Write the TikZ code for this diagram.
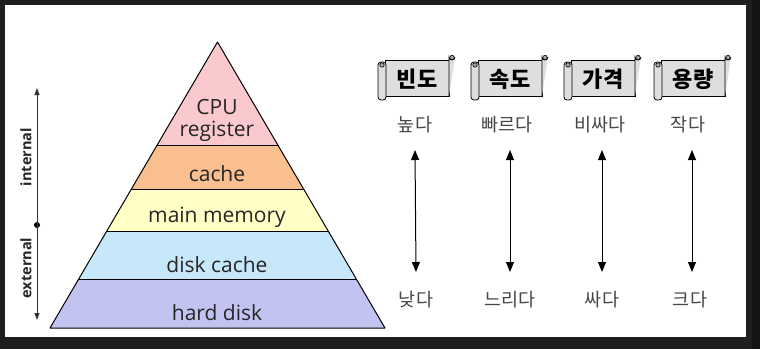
\documentclass[tikz,border=0pt]{standalone}
\usepackage{fontspec}
\setmainfont{Open Sans}
\newfontfamily\kofont{Noto Sans CJK KR}
\usetikzlibrary{arrows.meta}
\definecolor{regPink}{HTML}{F9C9CD}
\definecolor{cachePeach}{HTML}{F9BF8F}
\definecolor{memYellow}{HTML}{FFFFC6}
\definecolor{dcacheBlue}{HTML}{C7E7FA}
\definecolor{diskLilac}{HTML}{C3C3F2}
\definecolor{scrollGray}{HTML}{DEDEDE}
\definecolor{frameDark}{HTML}{1E1E1E}

% scroll banner: name, x centre, title
\newcommand{\scrollTitle}[3]{%
  \draw[fill=scrollGray, line width=0.8pt] (#2-30,60) rectangle (#2+34,96);
  \draw[fill=scrollGray, line width=0.8pt] (#2+34,96) -- (#2+34,57) arc[start angle=180, end angle=0, radius=3] -- (#2+40,57);
  \draw[fill=gray!70, line width=0.6pt] (#2+37,57.5) circle (2.2);
  \draw[fill=scrollGray, line width=0.8pt, rounded corners=3pt] (#2-37,62) rectangle (#2-29,100);
  \draw[fill=gray!70, line width=0.6pt] (#2-33,65) circle (2.2);
  \node[font=\kofont\bfseries\fontsize{22}{26}\selectfont] (#1) at (#2+2,79) {#3};
}

\begin{document}
\begin{tikzpicture}[x=1pt,y=-1pt,
  layer/.style={font=\fontsize{21}{25}\selectfont, text=black!85},
  kor/.style={font=\kofont\fontsize{18.5}{22}\selectfont, text=black!72},
  side/.style={font=\bfseries\fontsize{14.5}{17}\selectfont, rotate=90, text=black!85},
  dblarrow/.style={{Triangle[width=8pt,length=10pt]}-{Triangle[width=8pt,length=10pt]}, line width=1pt},
  thinarrow/.style={{Triangle[width=5pt,length=7pt]}-{Triangle[width=5pt,length=7pt]}, line width=0.9pt, black!80}]
\useasboundingbox (0,0) rectangle (760,349);
\fill[frameDark] (0,0) rectangle (760,349);
\fill[black!92] (752,0) rectangle (760,349);
\fill[white] (5,5) rectangle (746,337);

% pyramid
\begin{scope}
\clip (217.5,42) -- (50,328) -- (385,328) -- cycle;
\fill[regPink] (40,40) rectangle (400,145);
\fill[cachePeach] (40,145) rectangle (400,189);
\fill[memYellow] (40,189) rectangle (400,231);
\fill[dcacheBlue] (40,231) rectangle (400,279);
\fill[diskLilac] (40,279) rectangle (400,330);
\draw[line width=1pt] (40,145) -- (400,145);
\draw[line width=1pt] (40,189) -- (400,189);
\draw[line width=1pt] (40,231) -- (400,231);
\draw[line width=1pt] (40,279) -- (400,279);
\end{scope}
\draw[line width=1pt, line join=round] (217.5,42) -- (50,328) -- (385,328) -- cycle;

\node[layer, align=center] (cpu) at (217,120) {CPU\\[-3pt]register};
\node[layer] (cache) at (217,174) {cache};
\node[layer] (mainmem) at (217,217) {main memory};
\node[layer] (dcache) at (217,265) {disk cache};
\node[layer] (hdisk) at (217,313) {hard disk};

% internal / external
\coordinate (memTop) at (37,88);
\coordinate (memBot) at (37,320);
\node[circle, fill=black, inner sep=0pt, minimum size=6pt] (split) at (37,225) {};
\draw[thinarrow] (memTop) -- (memBot);
\node[side] (internal) at (26,157) {internal};
\node[side] (external) at (26,268) {external};

% scrolls
\scrollTitle{freq}{415}{빈도}
\scrollTitle{speed}{508}{속도}
\scrollTitle{price}{601}{가격}
\scrollTitle{size}{691}{용량}

\node[kor] (hiA) at (415,125) {높다};
\node[kor] (hiB) at (507,125) {빠르다};
\node[kor] (hiC) at (600,125) {비싸다};
\node[kor] (hiD) at (688,125) {작다};

\node[kor] (loA) at (416,300) {낮다};
\node[kor] (loB) at (510,300) {느리다};
\node[kor] (loC) at (602,300) {싸다};
\node[kor] (loD) at (690,300) {크다};

\draw[dblarrow] ([yshift=-25pt]hiA.center) -- ([yshift=28pt]loA.center);
\draw[dblarrow] ([xshift=3pt,yshift=-25pt]hiB.center) -- ([yshift=28pt]loB.center);
\draw[dblarrow] ([xshift=2pt,yshift=-25pt]hiC.center) -- ([yshift=28pt]loC.center);
\draw[dblarrow] ([xshift=4pt,yshift=-25pt]hiD.center) -- ([xshift=2pt,yshift=28pt]loD.center);
\end{tikzpicture}
\end{document}
